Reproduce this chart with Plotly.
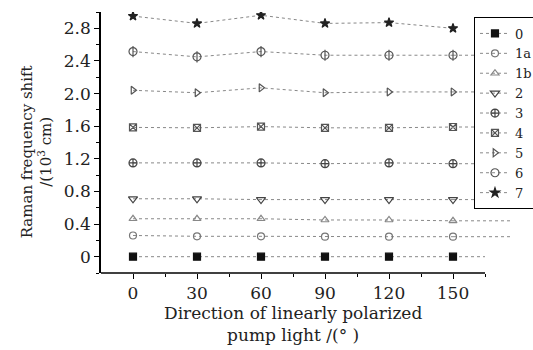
import plotly.graph_objects as go

# ---- data ----
angles = [0, 30, 60, 90, 120, 150]
labels = ["0", "1a", "1b", "2", "3", "4", "5", "6", "7"]
s0 = [0.0, 0.0, 0.0, 0.0, 0.0, 0.0]
s1a = [0.26, 0.25, 0.25, 0.245, 0.245, 0.245]
s1b = [0.465, 0.465, 0.465, 0.45, 0.45, 0.44]
s2 = [0.71, 0.71, 0.70, 0.70, 0.70, 0.70]
s3 = [1.15, 1.15, 1.15, 1.14, 1.15, 1.14]
s4 = [1.585, 1.58, 1.595, 1.58, 1.58, 1.59]
s5 = [2.04, 2.01, 2.07, 2.01, 2.02, 2.02]
s6 = [2.515, 2.45, 2.515, 2.47, 2.47, 2.47]
s7 = [2.95, 2.86, 2.96, 2.86, 2.87, 2.80]
series = [s0, s1a, s1b, s2, s3, s4, s5, s6, s7]
# where each dotted guide line ends on the right (None = ends at last point)
line_end = [165, 178, 178, 178, 178, 178, 178, 178, None]

y_tickvals = [0, 0.4, 0.8, 1.2, 1.6, 2.0, 2.4, 2.8]
y_ticktext = ["0", "0.4", "0.8", "1.2", "1.6", "2.0", "2.4", "2.8"]
x_tickvals = [0, 30, 60, 90, 120, 150]
x_minor = [15, 45, 75, 105, 135, 165]

# ---- styles ----
symbols = ["square", "circle-open", "triangle-up-open", "triangle-down-open",
           "circle-cross-open", "square-x-open", "triangle-right-open",
           "circle-open", "star"]
msizes = [7, 7, 7, 8, 8, 7, 7, 8, 7]
mcolors = ["#111", "#777", "#888", "#444", "#444", "#555", "#555", "#555", "#222"]
line_col = "#888"
FONT = "DejaVu Serif"
TXT = "#222"

fig = go.Figure()
for lab, ys, sym, ms, mc, le in zip(labels, series, symbols, msizes, mcolors, line_end):
    if le is not None:
        fig.add_trace(go.Scatter(
            x=[angles[-1], le], y=[ys[-1], ys[-1]], mode="lines",
            line=dict(color=line_col, width=1, dash="dot"),
            showlegend=False, hoverinfo="skip", legendgroup=lab))
    fig.add_trace(go.Scatter(
        x=angles, y=ys, mode="lines+markers", name=lab, legendgroup=lab,
        line=dict(color=line_col, width=1, dash="dot"),
        marker=dict(symbol=sym, size=ms, color=mc, line=dict(color=mc, width=1.2)),
    ))
    if lab == "6":
        fig.add_trace(go.Scatter(
            x=angles, y=ys, mode="markers", showlegend=False, legendgroup=lab,
            marker=dict(symbol="line-ns-open", size=8, color=mc, line=dict(color=mc, width=1.2)),
        ))

# x-axis line drawn only over the labelled span
fig.add_shape(type="line", xref="x", yref="paper", x0=-15, x1=165, y0=0, y1=0,
              line=dict(color="black", width=1.5))

fig.add_annotation(text="Direction of linearly polarized<br>pump light /(° )",
                   xref="x", yref="paper", x=75, y=0, yanchor="top", yshift=-28,
                   showarrow=False, font=dict(family=FONT, size=17, color=TXT))
fig.add_annotation(text="Raman frequency shift<br>/(10<sup>3</sup> cm)",
                   xref="paper", yref="paper", x=-0.154, y=0.466,
                   xanchor="center", yanchor="middle", textangle=-90,
                   showarrow=False, font=dict(family=FONT, size=15, color=TXT))

fig.update_layout(
    width=533, height=350,
    margin=dict(l=101, r=16, t=12, b=77, autoexpand=False),
    paper_bgcolor="white", plot_bgcolor="white",
    font=dict(family=FONT, size=17, color=TXT),
    xaxis=dict(range=[-15, 180], showline=False, showgrid=False, zeroline=False,
               tickmode="array", tickvals=x_tickvals, ticks="outside", ticklen=5,
               tickcolor="black", tickwidth=1.2,
               tickfont=dict(family=FONT, size=17, color=TXT),
               minor=dict(tickmode="array", tickvals=x_minor, ticks="outside",
                          ticklen=3, tickcolor="black", showgrid=False)),
    yaxis=dict(range=[-0.2, 3.0], showline=True, linecolor="black", linewidth=1.5,
               showgrid=False, zeroline=False,
               tickmode="array", tickvals=y_tickvals, ticktext=y_ticktext,
               ticks="outside", ticklen=5, tickcolor="black", tickwidth=1.2,
               tickfont=dict(family=FONT, size=17, color=TXT),
               minor=dict(tick0=0, dtick=0.2, ticks="outside", ticklen=3,
                          tickcolor="black", showgrid=False)),
    legend=dict(x=0.8966, y=0.979, xanchor="left", yanchor="top",
                bordercolor="black", borderwidth=1, bgcolor="white",
                font=dict(family=FONT, size=13, color=TXT),
                itemwidth=30, tracegroupgap=0),
    showlegend=True,
)

# remove the browser's default page margin so the 533x350 figure fills the window
fig.write_html("out.html",
               config={"displayModeBar": False},
               post_script="document.body.style.margin='0';document.body.style.overflow='hidden';")
